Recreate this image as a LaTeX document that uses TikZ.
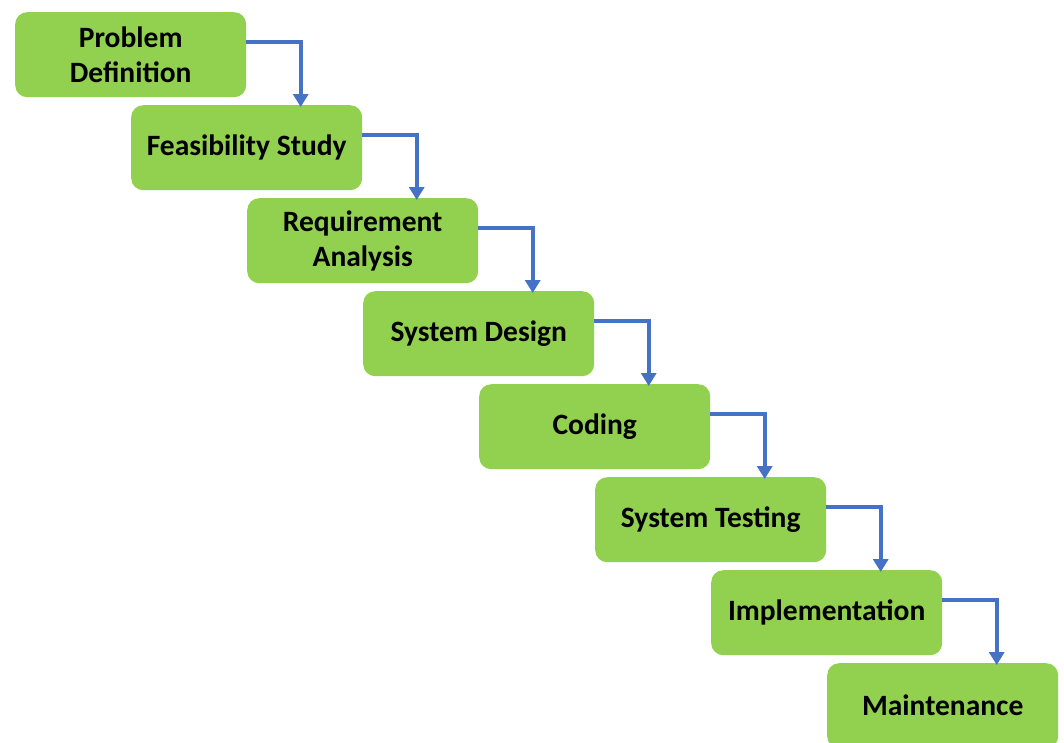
\documentclass[tikz,border=0pt]{standalone}
\usepackage{fontspec}
\setmainfont{Carlito}
\usetikzlibrary{arrows.meta}
\definecolor{stepgreen}{HTML}{92D050}
\definecolor{flowblue}{HTML}{4472C4}
\begin{document}
\begin{tikzpicture}[x=1pt,y=-1pt,
    phase/.style={fill=stepgreen,rounded corners=12pt,minimum width=231pt,minimum height=85pt,
      inner sep=0pt,anchor=north west,align=center,font=\bfseries\fontsize{29.5}{35}\selectfont},
    flow/.style={draw=flowblue,line width=4pt,-{Triangle[width=15pt,length=13pt]}}]
    \useasboundingbox (0,0) rectangle (1064,742);

    \node[phase] (def)  at (15,12)   {Problem\\Definition};
    \node[phase] (feas) at (131,105) {Feasibility Study};
    \node[phase] (req)  at (247,198) {Requirement\\Analysis};
    \node[phase] (des)  at (363,291) {System Design};
    \node[phase] (cod)  at (479,384) {Coding};
    \node[phase] (test) at (595,477) {System Testing};
    \node[phase] (impl) at (711,570) {Implementation};
    \node[phase] (mnt)  at (827,663) {Maintenance};

    \draw[flow] ([yshift=12.5pt]def.east)  -| ([xshift=54pt,yshift=-2pt]feas.north);
    \draw[flow] ([yshift=12.5pt]feas.east) -| ([xshift=54pt,yshift=-2pt]req.north);
    \draw[flow] ([yshift=12.5pt]req.east)  -| ([xshift=54pt,yshift=-2pt]des.north);
    \draw[flow] ([yshift=12.5pt]des.east)  -| ([xshift=54pt,yshift=-2pt]cod.north);
    \draw[flow] ([yshift=12.5pt]cod.east)  -| ([xshift=54pt,yshift=-2pt]test.north);
    \draw[flow] ([yshift=12.5pt]test.east) -| ([xshift=54pt,yshift=-2pt]impl.north);
    \draw[flow] ([yshift=12.5pt]impl.east) -| ([xshift=54pt,yshift=-2pt]mnt.north);
  \end{tikzpicture}
\end{document}
